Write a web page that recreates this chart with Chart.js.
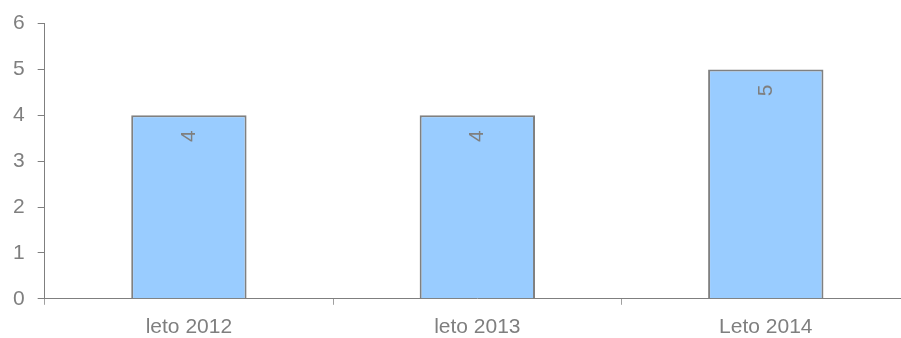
<!DOCTYPE html>
<html>
<head>
<meta charset="utf-8">
<script src="https://cdn.jsdelivr.net/npm/chart.js@4"></script>
<style>
  html, body { margin: 0; padding: 0; background: #fff; overflow: hidden; }
  #wrap { width: 910px; height: 350px; }
</style>
</head>
<body>
<div id="wrap"><canvas id="myChart" width="910" height="350"></canvas></div>
<script>
const categories = ['leto 2012', 'leto 2013', 'Leto 2014'];
const values = [4, 4, 5];
const yTicks = [0, 1, 2, 3, 4, 5, 6];

const fontFamily = '"Liberation Sans", Arial, sans-serif';
const gray = '#7f7f7f';

// rotated value labels inside the top of each bar
const barLabels = {
  id: 'barLabels',
  afterDatasetsDraw(chart) {
    const ctx = chart.ctx;
    const meta = chart.getDatasetMeta(0);
    ctx.save();
    ctx.fillStyle = gray;
    ctx.font = '21px ' + fontFamily;
    ctx.textAlign = 'center';
    ctx.textBaseline = 'middle';
    meta.data.forEach((bar, i) => {
      ctx.save();
      ctx.translate(bar.x, bar.y + 21);
      ctx.rotate(-Math.PI / 2);
      ctx.fillText(String(values[i]), 0, 0);
      ctx.restore();
    });
    ctx.restore();
  }
};

window.addEventListener('load', setupChart);

function setupChart() {
  var ctx = document.getElementById('myChart').getContext('2d');
  new Chart(ctx, {
    type: 'bar',
    data: {
      labels: categories,
      datasets: [{
        data: values,
        backgroundColor: '#99ccff',
        borderColor: '#808080',
        borderWidth: 2,
        categoryPercentage: 1,
        barPercentage: 0.4
      }]
    },
    options: {
      responsive: false,
      animation: false,
      layout: { padding: { top: 22, left: 0, right: 0, bottom: 0 } },
      plugins: { legend: { display: false }, tooltip: { enabled: false } },
      scales: {
        x: {
          offset: true,
          grid: {
            offset: true,
            drawOnChartArea: false,
            color: '#a0a0a0',
            tickLength: 6
          },
          border: { color: gray, width: 1 },
          ticks: {
            color: gray,
            font: { family: fontFamily, size: 21 },
            padding: 10
          }
        },
        y: {
          min: 0,
          max: 6,
          afterBuildTicks(axis) { axis.ticks = yTicks.map(v => ({ value: v })); },
          grid: {
            drawOnChartArea: false,
            color: gray,
            tickLength: 7
          },
          border: { color: gray, width: 1 },
          ticks: {
            color: gray,
            font: { family: fontFamily, size: 21, lineHeight: 1 },
            padding: 13
          }
        }
      }
    },
    plugins: [barLabels]
  });
}
</script>
</body>
</html>
